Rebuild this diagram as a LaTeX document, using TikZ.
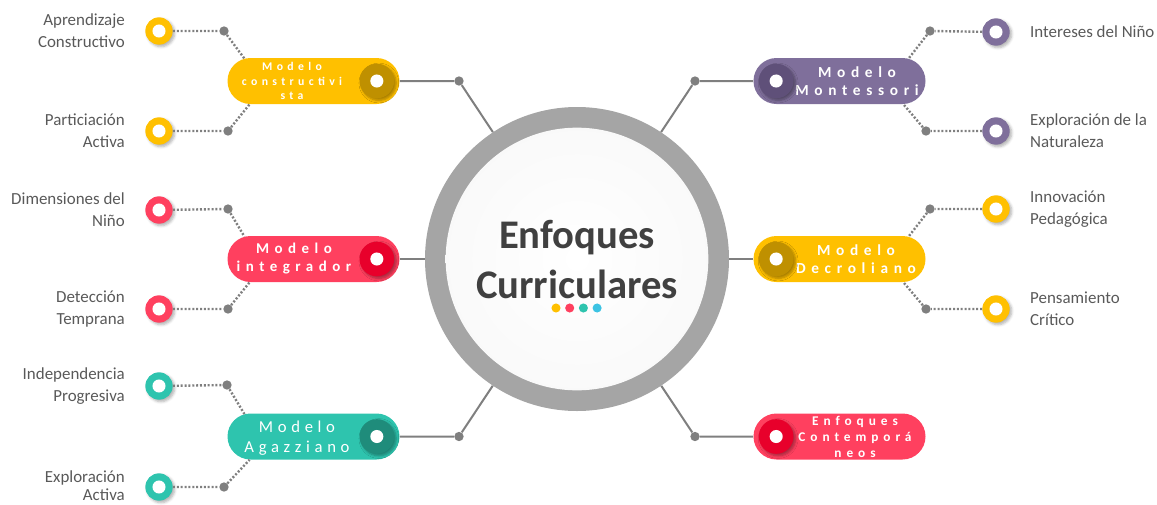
\documentclass[tikz,border=0pt]{standalone}
\usepackage{fontspec}
\setmainfont{Carlito}
\newfontfamily\espaciada[LetterSpace=37]{Carlito}
\newfontfamily\espaciadafina[LetterSpace=28]{Carlito}
\usetikzlibrary{shapes.misc, shadows, shadows.blur, calc, positioning}

\definecolor{amarillo}{HTML}{FFC000}
\definecolor{amarilloosc}{HTML}{BF9000}
\definecolor{rojo}{HTML}{FF405F}
\definecolor{rojoosc}{HTML}{E8002B}
\definecolor{verde}{HTML}{2EC4AE}
\definecolor{verdeosc}{HTML}{1F8C7B}
\definecolor{morado}{HTML}{7F6F9B}
\definecolor{moradoosc}{HTML}{5F5079}
\definecolor{celeste}{HTML}{3CC3E3}
\definecolor{anillo}{HTML}{A5A5A5}
\definecolor{linea}{HTML}{7F7F7F}
\definecolor{texto}{HTML}{595959}
\definecolor{titulo}{HTML}{404040}

% relleno del circulo central
\pgfdeclareradialshading{centro}{\pgfpoint{0bp}{0bp}}{color(0bp)=(white); color(34bp)=(white!97!black); color(45bp)=(white!93!black); color(50bp)=(white!70!black)}

\tikzset{
  pill/.style={rounded rectangle, fill=#1, minimum width=129pt, minimum height=34.5pt, inner sep=0pt},
  pilltxt/.style={text=white, align=center, inner sep=0pt, font=#1},
  knob/.style={circle, fill=#1, minimum size=26pt, inner sep=0pt,
    blur shadow={shadow xshift=1.5pt, shadow yshift=-1.5pt, shadow opacity=35, shadow blur steps=5},
    path picture={\fill[white] (path picture bounding box.center) circle (4.9pt);}},
  ring/.style={circle, fill=#1, minimum size=20.5pt, inner sep=0pt,
    blur shadow={shadow xshift=1.5pt, shadow yshift=-1.5pt, shadow opacity=30, shadow blur steps=5},
    path picture={\fill[white] (path picture bounding box.center) circle (4.9pt);}},
  jdot/.style={circle, fill=linea, minimum size=7pt, inner sep=0pt},
  conn/.style={draw=linea, line width=1.5pt},
  dots/.style={draw=linea, line width=1.8pt, dash pattern=on 1.5pt off 1.4pt},
  lab/.style={text=texto, font=\fontsize{12.7}{16.5}\selectfont, inner sep=0pt},
}

\begin{document}
\begin{tikzpicture}[x=0.75pt, y=-0.75pt]
\useasboundingbox (0,0) rectangle (1157,504);

% centro
\node[circle, fill=anillo, minimum size=228pt, inner sep=0pt] (hub) at (577,259) {};
\shade[shading=centro] (hub.center) circle (98.5pt);
\node[font=\bfseries\fontsize{30.5}{37.5}\selectfont, text=titulo, align=center] (titulo) at (577,260) {Enfoques\\Curriculares};
\foreach \c [count=\i] in {amarillo,rojo,verde,celeste}
  \fill[\c] (542.3+13.7*\i,308) circle (3.4pt);

% modelos
\node[pill=amarillo] (mc) at (313.5,81) {};
\node[pill=rojo] (mi) at (313.5,259) {};
\node[pill=verde] (ma) at (313.5,436.5) {};
\node[pill=morado] (mm) at (839.5,81) {};
\node[pill=amarillo] (md) at (839.5,259) {};
\node[pill=rojo] (ec) at (839.5,436.5) {};

\node[pilltxt=\espaciada\bfseries\fontsize{8.8}{10.9}\selectfont] (mc-t) at (292,81) {Modelo\\constructivi\\sta};
\node[pilltxt=\espaciada\bfseries\fontsize{11.2}{13.5}\selectfont] (mi-t) at (294,259) {Modelo\\integrador};
\node[pilltxt=\espaciadafina\fontsize{12.5}{15}\selectfont] (ma-t) at (297,438) {Modelo\\Agazziano};
\node[pilltxt=\espaciada\bfseries\fontsize{11.5}{13.5}\selectfont] (mm-t) at (857,81) {Modelo\\Montessori};
\node[pilltxt=\espaciada\bfseries\fontsize{11.5}{13.5}\selectfont] (md-t) at (856,259) {Modelo\\Decroliano};
\node[pilltxt=\espaciada\bfseries\fontsize{10}{12}\selectfont] (ec-t) at (855,437) {Enfoques\\Contemporá\\neos};

\node[knob=amarilloosc, left=4pt of mc.east, anchor=east] (mc-k) {};
\node[knob=rojoosc, left=4pt of mi.east, anchor=east] (mi-k) {};
\node[knob=verdeosc, left=4pt of ma.east, anchor=east] (ma-k) {};
\node[knob=moradoosc, right=4pt of mm.west, anchor=west] (mm-k) {};
\node[knob=amarilloosc, right=4pt of md.west, anchor=west] (md-k) {};
\node[knob=rojoosc, right=4pt of ec.west, anchor=west] (ec-k) {};

% uniones con el centro
\node[jdot] (h1) at (459,81) {};
\node[jdot] (h2) at (459,436.5) {};
\node[jdot] (h3) at (695,81) {};
\node[jdot] (h4) at (695,436.5) {};
\draw[conn] (mc.east) -- (h1) -- (hub);
\draw[conn] (mi.east) -- (hub);
\draw[conn] (ma.east) -- (h2) -- (hub);
\draw[conn] (mm.west) -- (h3) -- (hub);
\draw[conn] (md.west) -- (hub);
\draw[conn] (ec.west) -- (h4) -- (hub);

% ramas izquierda
\node[jdot] (mc-a) at (224,31) {};
\node[jdot] (mc-b) at (228,131) {};
\node[jdot] (mi-a) at (228,209) {};
\node[jdot] (mi-b) at (228,309) {};
\node[jdot] (ma-a) at (227,385) {};
\node[jdot] (ma-b) at (224,487) {};
\node[ring=amarillo] (mc-ra) at (159,31) {};
\node[ring=amarillo] (mc-rb) at (159,131) {};
\node[ring=rojo] (mi-ra) at (159,210) {};
\node[ring=rojo] (mi-rb) at (159,309) {};
\node[ring=verde] (ma-ra) at (159,386) {};
\node[ring=verde] (ma-rb) at (159,487) {};

\draw[dots] (mc-ra) -- (mc-a) -- (mc.162);
\draw[dots] (mc-rb) -- (mc-b) -- (mc.200);
\draw[dots] (mi-ra) -- (mi-a) -- (mi.162);
\draw[dots] (mi-rb) -- (mi-b) -- (mi.200);
\draw[dots] (ma-ra) -- (ma-a) -- (ma.162);
\draw[dots] (ma-rb) -- (ma-b) -- (ma.200);

\node[lab, align=right, left=15pt of mc-ra] (mc-la) {Aprendizaje\\Constructivo};
\node[lab, align=right, left=15pt of mc-rb] (mc-lb) {Particiación\\Activa};
\node[lab, align=right, left=15pt of mi-ra] (mi-la) {Dimensiones del\\Niño};
\node[lab, align=right, left=15pt of mi-rb] (mi-lb) {Detección\\Temprana};
\node[lab, align=right, left=15pt of ma-ra] (ma-la) {Independencia\\Progresiva};
\node[lab, align=right, left=15pt of ma-rb, yshift=1pt,
  font=\fontsize{12.7}{14.2}\selectfont] (ma-lb) {Exploración\\Activa};

% ramas derecha
\node[jdot] (mm-a) at (930,31) {};
\node[jdot] (mm-b) at (926,131) {};
\node[jdot] (md-a) at (930,209) {};
\node[jdot] (md-b) at (926,309) {};
\node[ring=morado] (mm-ra) at (996,32) {};
\node[ring=morado] (mm-rb) at (996,131) {};
\node[ring=amarillo] (md-ra) at (996,209) {};
\node[ring=amarillo] (md-rb) at (996,309) {};

\draw[dots] (mm-ra) -- (mm-a) -- (mm.18);
\draw[dots] (mm-rb) -- (mm-b) -- (mm.-20);
\draw[dots] (md-ra) -- (md-a) -- (md.18);
\draw[dots] (md-rb) -- (md-b) -- (md.-20);

\node[lab, align=left, right=15pt of mm-ra] (mm-la) {Intereses del Niño};
\node[lab, align=left, right=15pt of mm-rb] (mm-lb) {Exploración de la\\Naturaleza};
\node[lab, align=left, right=15pt of md-ra] (md-la) {Innovación\\Pedagógica};
\node[lab, align=left, right=15pt of md-rb] (md-lb) {Pensamiento\\Crítico};
\end{tikzpicture}
\end{document}
